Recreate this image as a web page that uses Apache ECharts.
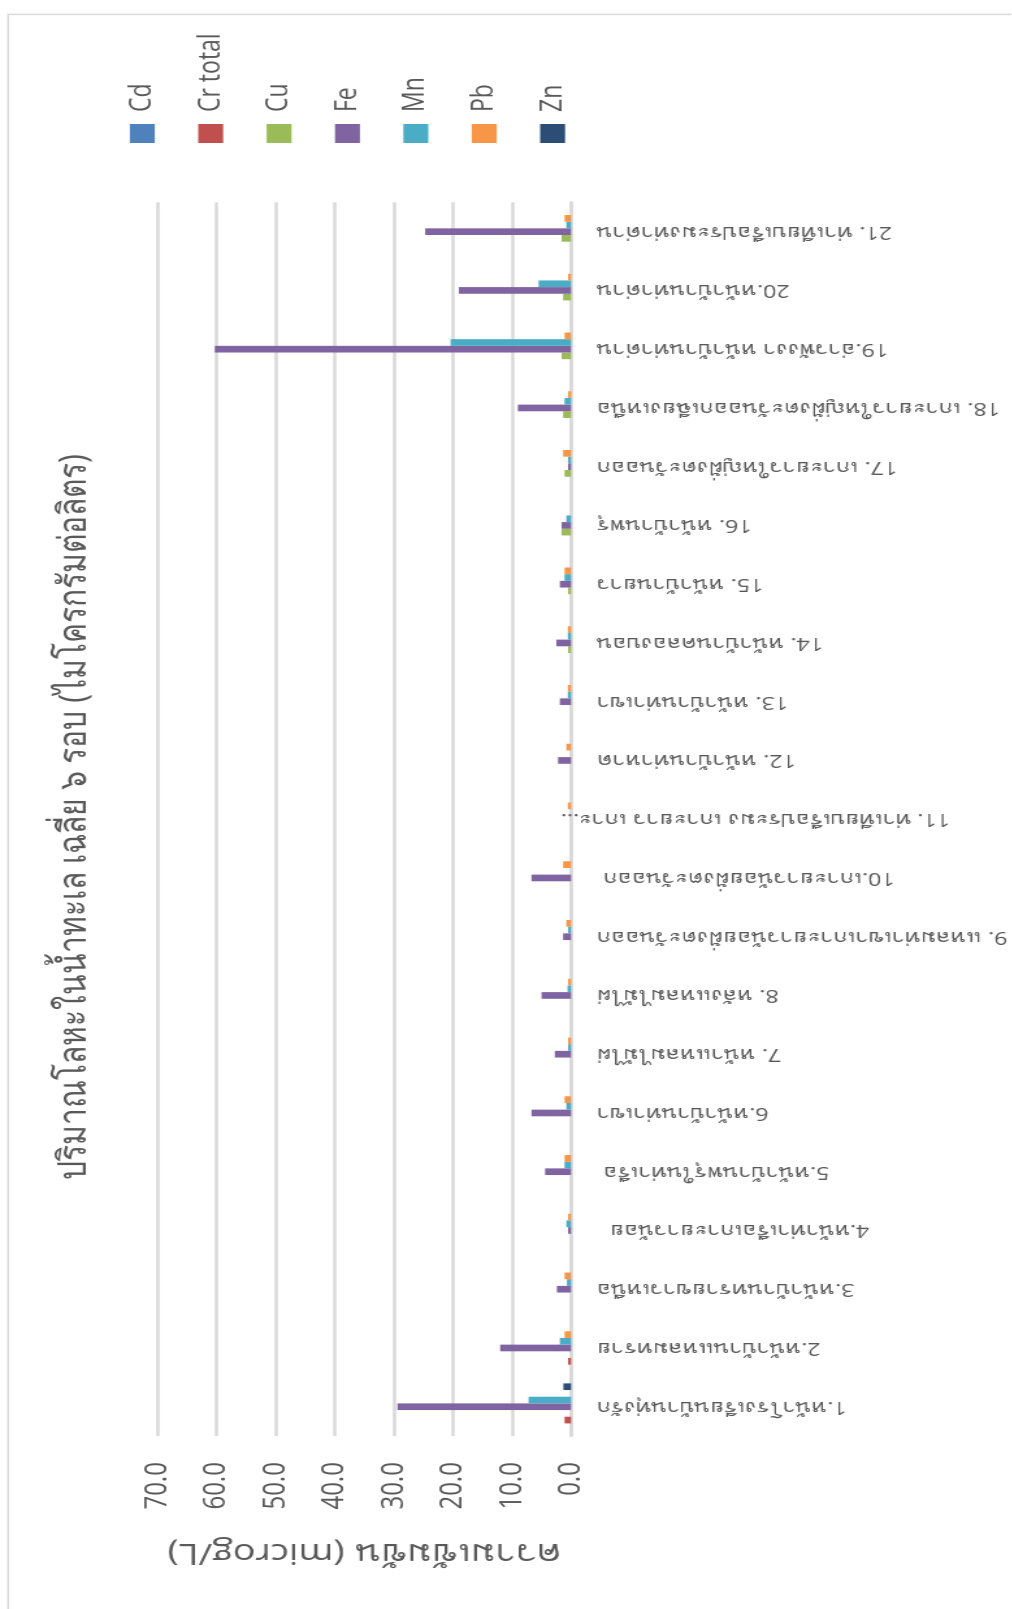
<!DOCTYPE html>
<html>
<head>
<meta charset="utf-8">
<script src="https://cdn.jsdelivr.net/npm/echarts@6/dist/echarts.min.js"></script>
<style>
  html, body { margin: 0; padding: 0; background: #ffffff; overflow: hidden; }
  body { width: 1012px; height: 1609px; position: relative; }
  /* The chart is laid out as a wide column chart and turned a quarter turn
     counter-clockwise (with a slight horizontal stretch) to fill the tall page. */
  #chart {
    position: absolute; left: 0; top: 0;
    width: 1609px; height: 778px;
    transform-origin: 0 0;
    transform: matrix(0, -1, 1.3, 0, 0, 1609);
  }
</style>
</head>
<body>
<div id="chart"></div>
<script>
const categories = [
  '1.หน้าโรงเรียนบ้านทุ่งรัก',
  '2.หน้าบ้านแหลมทราย',
  '3.หน้าบ้านทรายขาวเหนือ',
  '4.หน้าท่าเรือเกาะยาวน้อย  ',
  '5.หน้าบ้านพรุในท่าเรือ ',
  '6.หน้าบ้านท่าเขา',
  '7. หน้าแหลมไม้ไผ่',
  '8. หลังแหลมไม้ไผ่',
  '9. แหลมท่าเขาเกาะยาวน้อยฝั่งตะวันออก',
  '10.เกาะยาวน้อยฝั่งตะวันออก ',
  '11. ท่าเทียบเรือประมง เกาะยาว เกาะ...',
  '12. หน้าบ้านท่าหาด',
  '13. หน้าบ้านท่าเขา',
  '14. หน้าบ้านคลองบอน',
  '15. หน้าบ้านยาว',
  '16. หน้าบ้านพรุ',
  '17. เกาะยาวใหญ่ฝั่งตะวันออก',
  '18. เกาะยาวใหญ่ฝั่งตะวันออกเฉียงเหนือ',
  '19.อ่าวพังงา หน้าบ้านท่าด่าน',
  '20.หน้าบ้านท่าด่าน',
  '21. ท่าเทียบเรือประมงท่าด่าน'
];

const seriesNames = ['Cd', 'Cr total', 'Cu', 'Fe', 'Mn', 'Pb', 'Zn'];
const seriesColors = ['#4f81bd', '#c0504d', '#9bbb59', '#8064a2', '#4bacc6', '#f79646', '#2c4d75'];

// Mean concentrations (µg/L) per station, stations 1..21
const cd      = [0, 0, 0, 0, 0, 0, 0, 0, 0, 0, 0, 0, 0, 0, 0, 0, 0, 0, 0, 0, 0];
const crTotal = [1.1, 0.5, 0, 0, 0, 0, 0, 0, 0, 0, 0, 0, 0, 0, 0, 0, 0, 0, 0, 0, 0];
const cu      = [0, 0, 0, 0, 0, 0, 0, 0, 0, 0, 0, 0, 0, 0.5, 0.5, 1.6, 1.1, 1.35, 1.6, 1.35, 1.6];
const fe      = [29.4, 12.0, 2.4, 0.5, 4.4, 6.7, 2.75, 5.0, 1.35, 6.7, 0, 2.2, 1.9, 2.5, 1.9, 1.6, 0.5, 9.0, 60.3, 19.0, 24.7];
const mn      = [7.2, 1.9, 0.7, 0.8, 1.1, 0.8, 0.5, 0.6, 0.5, 0, 0, 0, 0.55, 0.55, 1.1, 0.8, 0.5, 1.1, 20.4, 5.5, 0.8];
const pb      = [0, 1.1, 1.1, 0.5, 1.1, 1.1, 0.5, 0.5, 0.8, 1.35, 0.55, 0.8, 0.55, 0.55, 1.1, 0, 1.35, 0.5, 1.1, 0.5, 1.1];
const zn      = [1.3, 0, 0, 0, 0, 0, 0, 0, 0, 0, 0, 0, 0, 0, 0, 0, 0, 0, 0, 0, 0];

const valueTicks = [0, 10, 20, 30, 40, 50, 60, 70];

const seriesData = [cd, crTotal, cu, fe, mn, pb, zn];

const FONT = "'Open Sans', 'Noto Sans', 'DejaVu Sans', sans-serif";
const TEXT = '#595959';
const GRID = '#d9d9d9';

// The truncated station-11 label runs past the axis line, as Excel draws it.
const categoryItems = categories.map((name, i) =>
  name.endsWith('...')
    ? { value: name, textStyle: { padding: [0, -28, 0, 0] } }
    : name
);

const chart = echarts.init(document.getElementById('chart'), null, { renderer: 'canvas' });

chart.setOption({
  animation: false,
  backgroundColor: '#ffffff',
  textStyle: { fontFamily: FONT },
  title: {
    text: 'ปริมาณโลหะในน้ำทะเล เฉลี่ย ๖ รอบ (ไมโครกรัมต่อลิตร)',
    left: 787,
    top: 37,
    textAlign: 'center',
    textStyle: { fontFamily: FONT, fontSize: 30, fontWeight: 'normal', color: TEXT }
  },
  graphic: [{
    type: 'rect',
    silent: true,
    shape: { x: -20, y: 6.3, width: 1614.6, height: 800 },
    style: { fill: 'none', stroke: GRID, lineWidth: 1.5 }
  }],
  legend: {
    orient: 'vertical',
    left: 1466,
    top: 98,
    padding: 0,
    itemWidth: 19,
    itemHeight: 19.2,
    itemGap: 29.6,
    icon: 'rect',
    data: seriesNames,
    textStyle: { fontFamily: FONT, fontSize: 23, color: TEXT, padding: [0, 0, 0, 7] }
  },
  grid: { left: 172.9, top: 121.2, width: 1233.8, height: 318.8, containLabel: false },
  xAxis: {
    type: 'category',
    data: categoryItems,
    axisTick: { show: false },
    axisLine: { lineStyle: { color: GRID, width: 2.5 } },
    axisLabel: {
      interval: 0, rotate: 90, margin: 20,
      fontFamily: FONT, fontSize: 18, color: TEXT
    }
  },
  yAxis: {
    type: 'value',
    min: valueTicks[0],
    max: valueTicks[valueTicks.length - 1],
    interval: valueTicks[1] - valueTicks[0],
    axisLine: { show: false },
    axisTick: { show: false },
    splitLine: { lineStyle: { color: GRID, width: 2.5 } },
    axisLabel: {
      margin: 26, fontFamily: FONT, fontSize: 24, color: TEXT,
      formatter: v => v.toFixed(1)
    },
    name: 'ความเข้มข้น (microg/L)',
    nameLocation: 'middle',
    nameRotate: 90,
    nameGap: 102,
    nameTextStyle: { fontFamily: FONT, fontSize: 29, color: TEXT }
  },
  series: seriesNames.map((name, i) => ({
    name,
    type: 'bar',
    data: seriesData[i],
    barGap: '0%',
    barCategoryGap: '20.5%',
    itemStyle: { color: seriesColors[i] }
  }))
});
</script>
</body>
</html>
